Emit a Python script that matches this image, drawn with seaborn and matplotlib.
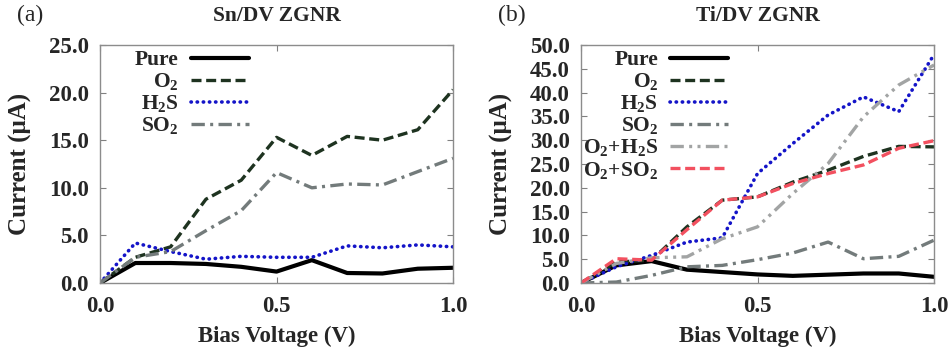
import numpy as np
import pandas as pd
import matplotlib
matplotlib.use('Agg')
import matplotlib.pyplot as plt
import seaborn as sns

# Bias voltage grid (V)
voltage = [0.0, 0.1, 0.2, 0.3, 0.4, 0.5, 0.6, 0.7, 0.8, 0.9, 1.0]

# (a) Sn/DV ZGNR currents (uA)
sn_pure = [0.0, 2.1, 2.1, 2.0, 1.7, 1.2, 2.4, 1.05, 1.0, 1.5, 1.6]
sn_o2 = [0.0, 2.7, 3.8, 8.8, 10.8, 15.3, 13.4, 15.4, 15.0, 16.1, 20.3]
sn_h2s = [0.0, 4.2, 3.3, 2.5, 2.8, 2.7, 2.7, 3.9, 3.7, 4.0, 3.8]
sn_so2 = [0.0, 2.7, 3.3, 5.5, 7.6, 11.6, 10.0, 10.4, 10.3, 11.7, 13.1]

# (b) Ti/DV ZGNR currents (uA)
ti_pure = [0.0, 3.7, 4.6, 2.8, 2.3, 1.8, 1.5, 1.75, 2.0, 2.0, 1.3]
ti_o2 = [0.0, 4.4, 4.8, 11.8, 17.4, 18.1, 21.2, 23.7, 26.6, 28.7, 28.6]
ti_h2s = [0.0, 3.4, 5.8, 8.6, 9.5, 23.0, 29.3, 35.3, 39.1, 36.0, 48.0]
ti_so2 = [0.0, 0.2, 1.6, 3.4, 3.7, 4.9, 6.3, 8.6, 5.1, 5.6, 9.0]
ti_o2_h2s = [0.0, 4.1, 5.3, 5.5, 9.3, 11.8, 18.8, 25.1, 34.9, 41.6, 45.8]
ti_o2_so2 = [0.0, 5.1, 4.8, 11.2, 17.4, 18.1, 20.9, 23.0, 24.8, 28.3, 29.9]

labels = ['Pure', r'$\mathregular{O_2}$', r'$\mathregular{H_2S}$', r'$\mathregular{SO_2}$',
          r'$\mathregular{O_2{+}H_2S}$', r'$\mathregular{O_2{+}SO_2}$']

styles = [
    dict(color='black', linestyle='-', lw=3.0),
    dict(color='#1e3320', linestyle=(0, (3, 1.4)), lw=2.4),
    dict(color='#1414c8', linestyle=(0, (0.1, 1.6)), lw=2.6, dash_capstyle='round'),
    dict(color='#737b7b', linestyle=(0, (4, 1.6, 0.9, 1.6)), lw=2.4),
    dict(color='#a2a4a4', linestyle=(0, (4, 1.6, 0.9, 1.6, 0.9, 1.6)), lw=2.4),
    dict(color='#f2505f', linestyle=(0, (3, 1.4)), lw=2.4),
]

sns.set_style('ticks')
plt.rcParams['font.family'] = ['Liberation Serif', 'DejaVu Serif']
plt.rcParams['font.weight'] = 'bold'
plt.rcParams['mathtext.fontset'] = 'custom'
plt.rcParams['mathtext.rm'] = 'Liberation Serif:bold'
plt.rcParams['mathtext.bf'] = 'Liberation Serif:bold'

fig = plt.figure(figsize=(9.5, 3.53), dpi=100)
ax_a = fig.add_axes([0.1053, 0.1983, 0.3716, 0.6742])
ax_b = fig.add_axes([0.6116, 0.1983, 0.3716, 0.6742])


def draw(ax, series, ymax, ystep, title, tag, legend_anchor):
    for i, vals in enumerate(series):
        st = dict(styles[i])
        lw = st.pop('lw')
        sns.lineplot(x=voltage, y=vals, ax=ax, label=labels[i], linewidth=lw, **st)
    ax.set_xlim(0, 1)
    ax.set_ylim(0, ymax)
    ax.set_xticks([0.0, 0.5, 1.0])
    ax.set_xticklabels(['0.0', '0.5', '1.0'])
    yt = np.arange(0, ymax + 0.01, ystep)
    ax.set_yticks(yt)
    ax.set_yticklabels([f'{v:.1f}' for v in yt])
    ax.tick_params(direction='in', length=4, width=0.8, color='#808080',
                   top=True, right=True, labelsize=16.5)
    ax.tick_params(axis='x', pad=9)
    ax.tick_params(axis='y', pad=8)
    for s in ax.spines.values():
        s.set_color('#8c8c8c')
        s.set_linewidth(1.0)
    for t in ax.get_xticklabels() + ax.get_yticklabels():
        t.set_fontweight('bold')
    ax.set_xlabel('Bias Voltage (V)', fontsize=16.5, fontweight='bold', labelpad=7)
    ax.set_ylabel('Current (μA)', fontsize=18, fontweight='bold', labelpad=12)
    ax.set_title(title, fontsize=15.5, fontweight='bold', pad=17)
    ax.text(-0.235, 1.125, tag, transform=ax.transAxes, fontsize=17,
            fontweight='normal', va='center', ha='left')
    ax.legend(loc='upper left', bbox_to_anchor=legend_anchor, frameon=False,
              markerfirst=False, fontsize=15.5, handlelength=2.7,
              labelspacing=0.05, handletextpad=0.55, borderaxespad=0)


draw(ax_a, [sn_pure, sn_o2, sn_h2s, sn_so2], 25.0, 5.0,
     'Sn/DV ZGNR', '(a)', (0.075, 1.015))
draw(ax_b, [ti_pure, ti_o2, ti_h2s, ti_so2, ti_o2_h2s, ti_o2_so2], 50.0, 5.0,
     'Ti/DV ZGNR', '(b)', (-0.018, 1.015))

fig.savefig('out.png', dpi=100)
